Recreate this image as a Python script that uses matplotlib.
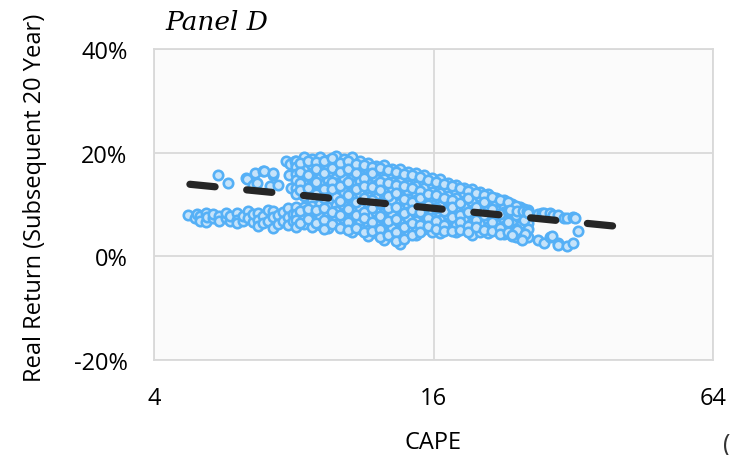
import matplotlib
matplotlib.use("Agg")
import matplotlib.pyplot as plt

# ---------------- data (CAPE, real return % over subsequent 20 years) ----------------
left_low_cape = [4.73, 4.90, 4.95, 5.03, 5.03, 5.17, 5.17, 5.20, 5.36, 5.36, 5.53, 5.53,
                 5.73, 5.73, 5.83, 5.83, 6.05, 6.05, 6.05, 6.23, 6.23, 6.38, 6.38, 6.54,
                 6.54, 6.70, 6.70, 6.70, 6.87, 6.87, 7.04, 7.04, 7.22, 7.22, 7.22, 7.40,
                 7.40, 7.58, 7.58, 7.78, 7.78, 7.78, 7.96, 7.96]
left_low_ret = [7.9, 7.3, 8.1, 7.7, 6.8, 8.3, 6.6, 7.5, 7.3, 8.1, 7.7, 6.9,
                7.3, 8.3, 6.9, 7.7, 8.3, 7.1, 6.4, 6.8, 7.7, 8.7, 7.3, 6.6,
                8.1, 8.3, 7.1, 5.8, 7.7, 6.4, 8.9, 6.9, 8.7, 7.5, 5.4, 7.9,
                6.2, 8.5, 6.8, 9.3, 7.5, 6.0, 8.1, 6.9]

left_up_cape = [5.50, 5.76, 6.30, 6.35, 6.55, 6.60, 6.67, 6.86, 6.90, 7.10, 7.20, 7.22,
                7.40, 7.70, 7.80, 7.85, 7.90, 8.05, 8.10]
left_up_ret = [15.6, 14.1, 15.2, 15.0, 13.7, 16.0, 14.1, 16.4, 16.4, 13.5, 15.6, 16.0,
               13.7, 18.3, 15.6, 17.9, 13.1, 18.3, 17.6]

core_cape = [8.09, 8.42, 8.76, 9.11, 9.48, 9.86, 10.26, 10.68, 11.11, 11.56, 12.03, 12.52,
             13.02, 13.55, 14.10, 14.67, 15.26, 15.88, 16.52, 17.19, 17.89, 18.61, 19.37,
             20.15, 20.97, 21.81, 22.70, 23.62, 24.57, 25.57]
core_ret = [
    [18.4, 17.3, 15.8, 14.7, 13.2, 12.1, 9.6, 8.1, 7.0, 5.7],
    [19.1, 17.6, 16.6, 15.0, 14.0, 12.5, 11.6, 9.5, 8.8, 7.7, 6.2],
    [18.7, 17.6, 16.0, 15.0, 13.5, 12.4, 10.9, 9.7, 8.2, 7.1, 5.6],
    [19.1, 17.7, 16.6, 15.1, 14.0, 12.5, 10.1, 8.7, 7.6, 6.1],
    [18.5, 17.4, 15.9, 14.8, 13.3, 12.2, 10.7, 9.5, 8.0, 6.9, 5.4],
    [19.3, 17.8, 16.7, 15.2, 14.1, 12.6, 11.5, 9.9, 8.8, 7.3, 6.2],
    [18.7, 17.6, 16.1, 15.0, 13.5, 12.4, 10.9, 9.8, 8.3, 7.2, 5.7],
    [19.1, 17.6, 16.5, 15.0, 13.9, 12.4, 11.3, 9.8, 8.7, 7.2, 6.1, 4.7],
    [18.3, 17.2, 15.7, 14.6, 13.1, 12.0, 10.5, 9.4, 7.9, 6.8, 5.3],
    [18.1, 16.6, 15.5, 14.0, 12.9, 11.4, 10.3, 8.8, 7.7, 6.2, 5.1, 4.0],
    [17.5, 16.4, 14.9, 13.8, 12.3, 11.2, 9.7, 8.6, 7.1, 6.0, 4.5],
    [17.6, 16.1, 15.0, 13.5, 12.4, 10.9, 9.8, 8.3, 7.2, 5.7, 4.6, 3.2],
    [16.9, 15.8, 14.3, 13.2, 11.7, 10.6, 9.1, 8.0, 6.5, 5.4, 3.9],
    [16.9, 15.4, 14.3, 12.8, 11.7, 10.2, 9.1, 7.6, 6.5, 5.0, 3.9, 2.3],
    [16.3, 15.2, 13.7, 12.6, 11.1, 10.0, 8.5, 7.4, 5.9, 4.8],
    [16.1, 14.6, 13.5, 12.0, 10.9, 9.4, 8.3, 6.8, 5.7, 4.2],
    [15.7, 14.2, 13.1, 11.6, 10.5, 9.0, 7.9, 6.4, 5.3],
    [15.1, 14.0, 12.5, 11.4, 9.9, 8.8, 7.3, 6.2, 4.7],
    [14.9, 13.4, 12.3, 10.8, 9.7, 8.2, 7.1, 5.6, 4.5],
    [14.1, 13.2, 11.7, 10.6, 9.1, 8.0, 6.5, 5.4],
    [13.8, 12.4, 11.3, 9.8, 8.7, 7.2, 6.1, 4.6],
    [13.1, 12.2, 10.7, 9.6, 8.1, 7.0, 5.5],
    [13.0, 11.6, 10.5, 9.0, 7.9, 6.4, 5.3, 4.2],
    [12.5, 11.4, 9.9, 8.8, 7.3, 6.2, 4.7],
    [12.1, 10.8, 9.7, 8.2, 7.1, 5.6, 4.5],
    [11.3, 10.4, 8.9, 7.8, 6.3, 5.2],
    [10.9, 9.6, 8.5, 7.0, 5.9, 4.4],
    [10.1, 9.0, 7.5, 6.4, 4.9, 4.0],
    [9.6, 8.4, 7.3, 5.8, 4.7, 3.5],
    [8.9, 7.9, 6.4, 5.3, 3.7],
]

mid_cape = [8.25, 8.59, 8.94, 9.29, 9.67, 10.06, 10.47, 10.89, 11.33, 11.79, 12.27, 12.77,
            13.28, 13.82, 14.38, 14.96, 15.57, 16.20, 16.85, 17.53, 18.25, 18.98, 19.76,
            20.55, 21.39, 22.25, 23.15, 24.09, 25.06]
mid_ret = [
    [18.0, 16.2, 14.1, 12.8, 8.7, 6.4],
    [18.3, 15.6, 13.1, 9.1, 7.2],
    [18.2, 16.9, 14.4, 12.0, 8.9, 6.5],
    [18.4, 16.0, 13.0, 11.3, 9.3, 7.0, 5.3],
    [18.9, 17.0, 14.3, 12.9, 8.6, 6.3],
    [18.0, 16.3, 13.5, 10.6, 8.0, 5.4],
    [18.4, 16.8, 14.3, 11.8, 9.2, 6.6, 5.1],
    [17.8, 16.0, 12.9, 10.4, 8.0, 5.5],
    [17.7, 15.1, 13.6, 11.2, 8.6, 7.4, 4.6],
    [17.2, 16.0, 13.3, 10.8, 9.4, 6.7, 4.9],
    [17.0, 14.4, 12.8, 10.2, 7.8, 5.2, 3.8],
    [16.6, 14.1, 11.6, 9.3, 6.8, 4.1],
    [16.2, 13.7, 12.3, 9.6, 7.2, 4.6, 2.9],
    [15.9, 13.5, 11.0, 8.4, 5.6, 3.4],
    [15.6, 13.1, 10.5, 9.0, 6.4, 4.1],
    [15.3, 12.7, 11.2, 8.6, 6.1, 4.6],
    [14.8, 12.1, 10.0, 7.4, 5.8],
    [14.4, 11.9, 9.3, 6.8, 5.2],
    [13.9, 11.3, 8.8, 6.0, 4.9],
    [13.5, 10.9, 9.5, 7.6, 4.9],
    [13.2, 10.2, 8.0, 6.6, 5.0],
    [12.6, 11.2, 8.6, 5.9, 4.6],
    [12.3, 9.5, 7.0, 5.7],
    [11.8, 10.4, 8.0, 5.1],
    [11.5, 9.2, 6.6, 4.8],
    [10.8, 8.1, 5.5, 4.3],
    [10.4, 8.8, 6.7, 4.6],
    [9.8, 7.9, 5.3, 3.8],
    [9.2, 7.0, 4.4],
]

tail_cape = [23.38, 24.2, 24.9, 25.4, 25.6, 26.9, 27.4, 27.7, 28.5, 28.9, 29.6, 30.5,
             31.1, 32.0, 32.3, 32.7, 24.2, 25.2, 24.8, 26.9, 27.7, 28.5, 28.8, 29.6,
             29.6, 31.1, 32.0, 23.6]
tail_ret = [8.9, 8.7, 8.7, 8.7, 8.3, 8.1, 8.3, 8.3, 8.3, 7.9, 7.9, 7.3,
            7.3, 7.5, 7.3, 4.8, 5.0, 4.4, 3.1, 3.1, 2.5, 3.7, 3.9, 2.5,
            2.1, 1.9, 2.5, 4.1]

trend_cape = [4.78, 39.6]
trend_ret = [13.9, 5.8]

x_ticks = [4, 16, 64]
x_tick_labels = ["4", "16", "64"]
y_ticks = [-20, 0, 20, 40]
y_tick_labels = ["-20%", "0%", "20%", "40%"]

# ---------------- figure ----------------
plt.rcParams['font.family'] = ['Open Sans', 'DejaVu Sans']

fig = plt.figure(figsize=(7.30, 4.56), dpi=100)
ax = fig.add_axes([154 / 730, 1 - 361 / 456, (713 - 154) / 730, (361 - 50) / 456])
ax.set_facecolor('#fbfbfb')

xs, ys = [], []
for c, r in zip(left_low_cape, left_low_ret):
    xs.append(c); ys.append(r)
for c, r in zip(left_up_cape, left_up_ret):
    xs.append(c); ys.append(r)
for c, col in zip(core_cape, core_ret):
    for r in col:
        xs.append(c); ys.append(r)
for c, col in zip(mid_cape, mid_ret):
    for r in col:
        xs.append(c); ys.append(r)
for c, r in zip(tail_cape, tail_ret):
    xs.append(c); ys.append(r)

ax.scatter(xs, ys, s=46, facecolor='#c6e3fa', edgecolor='#55b0f6', linewidth=1.9, zorder=3)

ax.plot(trend_cape, trend_ret, color='#262626', linewidth=5.2,
        linestyle=(0, (3.5, 4.4)), dash_capstyle='round', solid_capstyle='round', zorder=4)

ax.set_xscale('log', base=2)
ax.set_xlim(4, 64)
ax.set_ylim(-20, 40)
ax.set_xticks(x_ticks)
ax.set_xticklabels(x_tick_labels)
ax.minorticks_off()
ax.set_yticks(y_ticks)
ax.set_yticklabels(y_tick_labels)
ax.tick_params(axis='both', length=0, labelsize=17, colors='#000000')
ax.tick_params(axis='y', pad=19)
ax.tick_params(axis='x', pad=19)

ax.grid(True, color='#d9d9d9', linewidth=1.3, zorder=0)
ax.set_axisbelow(True)
for sp in ax.spines.values():
    sp.set_color('#d9d9d9')
    sp.set_linewidth(1.3)

fig.text(433 / 730, 1 - 443 / 456, 'CAPE', fontsize=17, ha='center', va='center')
fig.text(35 / 730, 1 - 198 / 456, 'Real Return (Subsequent 20 Year)', fontsize=17,
         rotation=90, ha='center', va='center')

fig.text(165 / 730, 1 - 22 / 456, 'Panel D', fontsize=19, family='DejaVu Serif',
         style='italic', ha='left', va='center')
fig.text(730 / 730, 1 - 445 / 456, '(', fontsize=18, ha='right', va='center', color='#333333')

fig.savefig('out.png', dpi=100)
